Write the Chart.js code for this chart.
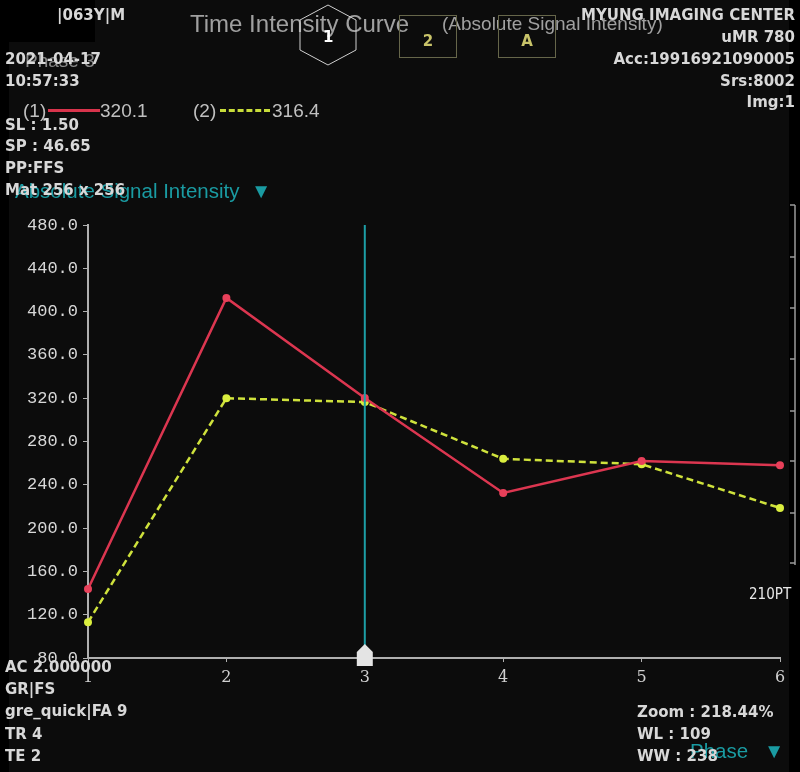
<!DOCTYPE html>
<html lang="en">
<head>
    <meta charset="UTF-8">
    <title>Time Intensity Curve</title>
    <style>
        body {
            margin: 0;
            padding: 0;
            background-color: #000;
        }

        .wrap {
            position: relative;
            width: 800px;
            height: 772px;
            overflow: hidden;
        }

        canvas {
            position: absolute;
            left: 0;
            top: 0;
        }

        /* overlay text */
        .txt {
            position: absolute;
            white-space: nowrap;
            line-height: 1;
        }

        .info {
            font-family: "DejaVu Sans", sans-serif;
            font-weight: bold;
            font-size: 15px;
            color: #d8d8d8;
        }

        .right {
            text-align: right;
        }

        .cyan {
            font-family: "Liberation Sans", Arial, sans-serif;
            font-size: 20.5px;
            color: #1a9ba2;
        }

        .gray {
            font-family: "Liberation Sans", Arial, sans-serif;
            color: #a0a0a0;
        }

        .box {
            position: absolute;
            border: 1px solid #66664a;
            font-family: "DejaVu Sans", sans-serif;
            font-weight: bold;
            font-size: 15px;
            color: #c9c46a;
            text-align: center;
        }
    </style>
</head>
<body>
<div class="wrap">
    <canvas id="ticChart" width="800" height="772"></canvas>

    <!-- header -->
    <div class="txt" style="left:0;top:0;width:95px;height:42px;background:#000;"></div>
    <div class="txt info" style="left:57px;top:8px;">|063Y|M</div>
    <div class="txt gray" style="left:190px;top:12px;font-size:24px;">Time Intensity Curve</div>
    <div class="txt gray" style="left:442px;top:14px;font-size:19px;">(Absolute Signal Intensity)</div>

    <svg style="position:absolute;left:298px;top:3px;" width="62" height="66">
        <polygon points="30,2 58,17 58,47 30,62 2,47 2,17" fill="none" stroke="#d0d0d0" stroke-width="1"/>
    </svg>
    <div class="txt info" style="left:323px;top:30px;color:#fff;">1</div>
    <div class="box" style="left:399px;top:15px;width:56px;height:41px;"><span style="position:relative;top:16px;">2</span></div>
    <div class="box" style="left:498px;top:15px;width:56px;height:41px;"><span style="position:relative;top:16px;">A</span></div>

    <div class="txt info right" style="right:5px;top:8px;">MYUNG IMAGING CENTER</div>
    <div class="txt info right" style="right:5px;top:30px;">uMR 780</div>
    <div class="txt info right" style="right:5px;top:52px;">Acc:19916921090005</div>
    <div class="txt info right" style="right:5px;top:74px;">Srs:8002</div>
    <div class="txt info right" style="right:5px;top:95px;">Img:1</div>

    <div class="txt gray" style="left:25px;top:51px;font-size:19px;color:#8a8a8a;">Phase 3</div>
    <div class="txt info" style="left:5px;top:52px;">2021-04-17</div>
    <div class="txt info" style="left:5px;top:74px;">10:57:33</div>

    <!-- legend row -->
    <div class="txt gray" style="left:23px;top:101px;font-size:19px;color:#c0c0c0;">(1)</div>
    <div style="position:absolute;left:48px;top:109px;width:52px;border-top:3px solid #d8344c;"></div>
    <div class="txt gray" style="left:100px;top:101px;font-size:19px;color:#c0c0c0;">320.1</div>
    <div class="txt gray" style="left:193px;top:101px;font-size:19px;color:#c0c0c0;">(2)</div>
    <div style="position:absolute;left:220px;top:109px;width:50px;border-top:3px dashed #c8dc3a;"></div>
    <div class="txt gray" style="left:272px;top:101px;font-size:19px;color:#c0c0c0;">316.4</div>

    <div class="txt cyan" style="left:15px;top:181px;">Absolute Signal Intensity &nbsp;▼</div>
    <div class="txt info" style="left:5px;top:118px;">SL : 1.50</div>
    <div class="txt info" style="left:5px;top:139px;">SP : 46.65</div>
    <div class="txt info" style="left:5px;top:161px;">PP:FFS</div>
    <div class="txt info" style="left:5px;top:183px;">Mat 256 x 256</div>

    <div class="txt" style="left:749px;top:587px;font-family:'DejaVu Sans Condensed',sans-serif;font-size:15px;color:#e8e8e8;">210PT</div>

    <!-- footer -->
    <div class="txt info" style="left:5px;top:660px;">AC 2.000000</div>
    <div class="txt info" style="left:5px;top:682px;">GR|FS</div>
    <div class="txt info" style="left:5px;top:704px;">gre_quick|FA 9</div>
    <div class="txt info" style="left:5px;top:727px;">TR 4</div>
    <div class="txt info" style="left:5px;top:749px;">TE 2</div>

    <div class="txt cyan" style="left:690px;top:741px;">Phase</div>
    <div class="txt cyan" style="left:764px;top:741px;">▼</div>
    <div class="txt info" style="left:637px;top:705px;">Zoom : 218.44%</div>
    <div class="txt info" style="left:637px;top:727px;">WL : 109</div>
    <div class="txt info" style="left:637px;top:749px;">WW : 238</div>
</div>

<script src="https://cdn.jsdelivr.net/npm/chart.js"></script>
<script>
    // Data
    const phases = ['1', '2', '3', '4', '5', '6'];
    const roi1 = [143.7, 412.6, 320.1, 232.4, 262.0, 258.0];
    const roi2 = [113.0, 320.0, 316.4, 264.0, 259.0, 218.6];
    const yTicks = [80, 120, 160, 200, 240, 280, 320, 360, 400, 440, 480];
    const cursorPhase = '3';

    // dark viewport background + right-hand neighbour axis
    const backdrop = {
        id: 'backdrop',
        beforeDraw(chart) {
            const c = chart.ctx;
            c.save();
            c.fillStyle = '#000';
            c.fillRect(0, 0, chart.width, chart.height);
            c.fillStyle = '#0c0c0c';
            c.fillRect(9, 0, 780, chart.height);
            c.strokeStyle = '#9a9a9a';
            c.lineWidth = 1.5;
            c.beginPath();
            c.moveTo(795, 205);
            c.lineTo(795, 565);
            c.stroke();
            [205, 257, 308, 359, 411, 461, 513, 563].forEach(y => {
                c.beginPath();
                c.moveTo(790, y);
                c.lineTo(795, y);
                c.stroke();
            });
            c.restore();
        }
    };

    // vertical phase cursor with its marker
    const cursor = {
        id: 'cursor',
        afterDatasetsDraw(chart) {
            const c = chart.ctx;
            const x = chart.scales.x.getPixelForValue(phases.indexOf(cursorPhase));
            const top = chart.chartArea.top;
            const bottom = chart.chartArea.bottom;
            c.save();
            c.strokeStyle = '#1d9fa6';
            c.lineWidth = 2;
            c.beginPath();
            c.moveTo(x, top);
            c.lineTo(x, bottom - 10);
            c.stroke();
            c.fillStyle = '#e4e4e4';
            c.beginPath();
            c.moveTo(x, bottom - 14);
            c.lineTo(x + 8, bottom - 6);
            c.lineTo(x + 8, bottom + 8);
            c.lineTo(x - 8, bottom + 8);
            c.lineTo(x - 8, bottom - 6);
            c.closePath();
            c.fill();
            c.restore();
        }
    };

    const ctx = document.getElementById('ticChart').getContext('2d');
    new Chart(ctx, {
        type: 'line',
        data: {
            labels: phases,
            datasets: [
                {
                    label: '(1)',
                    data: roi1,
                    borderColor: '#dc3650',
                    backgroundColor: '#e8405a',
                    borderWidth: 2.5,
                    pointRadius: 4,
                    pointBorderWidth: 0,
                    tension: 0
                },
                {
                    label: '(2)',
                    data: roi2,
                    borderColor: '#cfe23c',
                    backgroundColor: '#daee3e',
                    borderWidth: 2.5,
                    borderDash: [7, 4],
                    pointRadius: 4,
                    pointBorderWidth: 0,
                    tension: 0
                }
            ]
        },
        options: {
            responsive: false,
            animation: false,
            layout: {
                padding: { left: 0, right: 20, top: 225, bottom: 0 }
            },
            plugins: {
                legend: { display: false },
                tooltip: { enabled: false }
            },
            scales: {
                x: {
                    offset: false,
                    afterFit: s => { s.height = 114; },
                    border: { color: '#b0b0b0', width: 2 },
                    grid: { drawOnChartArea: false, color: '#b0b0b0', tickLength: 4 },
                    ticks: {
                        color: '#d0d0d0',
                        padding: 6,
                        font: { family: 'DejaVu Serif', size: 16 }
                    }
                },
                y: {
                    min: 80,
                    max: 480,
                    afterFit: s => { s.width = 88; },
                    afterBuildTicks: s => { s.ticks = yTicks.map(v => ({ value: v })); },
                    border: { color: '#b0b0b0', width: 2 },
                    grid: { drawOnChartArea: false, color: '#b0b0b0', tickLength: 5 },
                    ticks: {
                        color: '#d8d8d8',
                        padding: 5,
                        font: { family: 'Liberation Mono', size: 17 },
                        callback: v => v.toFixed(1)
                    }
                }
            }
        },
        plugins: [backdrop, cursor]
    });
</script>
</body>
</html>
